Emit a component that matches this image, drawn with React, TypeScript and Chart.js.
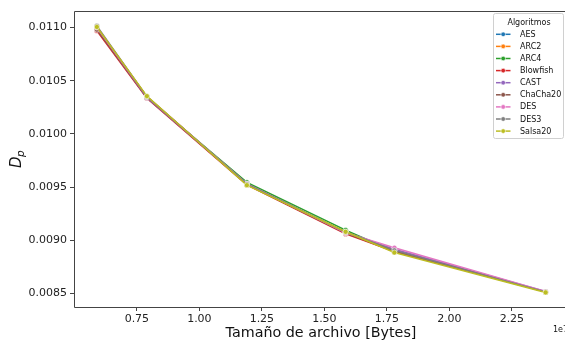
import React, { useEffect, useRef } from "react";
import { Chart, registerables } from "chart.js";

Chart.register(...registerables);

const fileSizes = [5.9e6, 7.9e6, 11.9e6, 15.85e6, 17.8e6, 23.85e6];

const algorithms = ["AES", "ARC2", "ARC4", "Blowfish", "CAST", "ChaCha20", "DES", "DES3", "Salsa20"];
const colors = ["#1f77b4", "#ff7f0e", "#2ca02c", "#d62728", "#9467bd", "#8c564b", "#e377c2", "#7f7f7f", "#bcbd22"];

const aesValues = [0.010995, 0.010345, 0.009530, 0.009075, 0.008900, 0.008515];
const arc2Values = [0.011000, 0.010350, 0.009528, 0.009070, 0.008895, 0.008515];
const arc4Values = [0.010990, 0.010340, 0.009545, 0.009095, 0.008895, 0.008515];
const blowfishValues = [0.010970, 0.010335, 0.009520, 0.009060, 0.008895, 0.008515];
const castValues = [0.010990, 0.010340, 0.009530, 0.009075, 0.008915, 0.008518];
const chacha20Values = [0.010980, 0.010345, 0.009525, 0.009068, 0.008900, 0.008515];
const desValues = [0.011000, 0.010350, 0.009530, 0.009070, 0.008930, 0.008518];
const des3Values = [0.011015, 0.010350, 0.009528, 0.009078, 0.008905, 0.008515];
const salsa20Values = [0.011005, 0.010355, 0.009518, 0.009080, 0.008885, 0.008510];

const seriesValues = [aesValues, arc2Values, arc4Values, blowfishValues, castValues, chacha20Values, desValues, des3Values, salsa20Values];

const xTickValues = [0.75e7, 1.0e7, 1.25e7, 1.5e7, 1.75e7, 2.0e7, 2.25e7];
const yTickValues = [0.0085, 0.009, 0.0095, 0.01, 0.0105, 0.011];

const xTitle = "Tamaño de archivo [Bytes]";
const legendTitle = "Algoritmos";
const FONT = "'DejaVu Sans', sans-serif";

const decorPlugin = {
  id: "decor",
  afterDraw(chart: any) {
    const ctx = chart.ctx;
    const a = chart.chartArea;
    ctx.save();
    // frame (left, top, bottom; right spine lies at the canvas edge)
    ctx.strokeStyle = "#444";
    ctx.lineWidth = 1;
    const L = Math.round(a.left) + 0.5;
    const T = Math.round(a.top) + 0.5;
    const B = Math.round(a.bottom) + 0.5;
    const R = Math.round(a.right) + 0.5;
    ctx.beginPath();
    ctx.moveTo(R, T);
    ctx.lineTo(L, T);
    ctx.lineTo(L, B);
    ctx.lineTo(R, B);
    ctx.lineTo(R, T);
    ctx.stroke();

    // x title
    ctx.fillStyle = "#111";
    ctx.font = `14.3px ${FONT}`;
    ctx.textAlign = "center";
    ctx.textBaseline = "middle";
    ctx.fillText(xTitle, 321, 333);

    // 1e7 offset
    ctx.font = `8px ${FONT}`;
    ctx.textAlign = "left";
    ctx.fillText("1e7", 553, 330);

    // y title D_p
    ctx.save();
    ctx.translate(16, (a.top + a.bottom) / 2);
    ctx.rotate(-Math.PI / 2);
    ctx.textAlign = "left";
    ctx.textBaseline = "alphabetic";
    ctx.font = `italic 15px ${FONT}`;
    const dW = ctx.measureText("D").width;
    ctx.font = `italic 10.5px ${FONT}`;
    const pW = ctx.measureText("p").width;
    const total = dW + pW;
    ctx.font = `italic 15px ${FONT}`;
    ctx.fillText("D", -total / 2, 5);
    ctx.font = `italic 10.5px ${FONT}`;
    ctx.fillText("p", -total / 2 + dW - 0.5, 7.5);
    ctx.restore();

    // legend
    const bx = 493.5, by = 13.5, bw = 70, bh = 125;
    ctx.fillStyle = "rgba(255,255,255,0.85)";
    ctx.strokeStyle = "#d0d0d0";
    ctx.lineWidth = 1;
    ctx.beginPath();
    const r = 2;
    ctx.moveTo(bx + r, by);
    ctx.lineTo(bx + bw - r, by);
    ctx.arcTo(bx + bw, by, bx + bw, by + r, r);
    ctx.lineTo(bx + bw, by + bh - r);
    ctx.arcTo(bx + bw, by + bh, bx + bw - r, by + bh, r);
    ctx.lineTo(bx + r, by + bh);
    ctx.arcTo(bx, by + bh, bx, by + bh - r, r);
    ctx.lineTo(bx, by + r);
    ctx.arcTo(bx, by, bx + r, by, r);
    ctx.closePath();
    ctx.fill();
    ctx.stroke();

    ctx.fillStyle = "#111";
    ctx.font = `8px ${FONT}`;
    ctx.textAlign = "center";
    ctx.textBaseline = "middle";
    ctx.fillText(legendTitle, 529, 23);
    ctx.textAlign = "left";
    for (let i = 0; i < algorithms.length; i++) {
      const y = 34.3 + i * 12.1;
      ctx.strokeStyle = colors[i];
      ctx.lineWidth = 1.5;
      ctx.beginPath();
      ctx.moveTo(496, y);
      ctx.lineTo(510.5, y);
      ctx.stroke();
      ctx.fillStyle = colors[i];
      ctx.strokeStyle = "#fff";
      ctx.lineWidth = 0.6;
      ctx.beginPath();
      ctx.arc(503.2, y, 2.3, 0, Math.PI * 2);
      ctx.fill();
      ctx.stroke();
      ctx.fillStyle = "#111";
      ctx.fillText(algorithms[i], 520, y + 0.5);
    }
    ctx.restore();
  },
};

export default function App() {
  const canvasRef = useRef<HTMLCanvasElement | null>(null);

  useEffect(() => {
    document.body.style.margin = "0";
    const canvas = canvasRef.current;
    if (!canvas) return;
    const datasets = algorithms.map((name, i) => ({
      label: name,
      data: fileSizes.map((x, j) => ({ x, y: seriesValues[i][j] })),
      borderColor: colors[i],
      backgroundColor: colors[i],
      borderWidth: 1.5,
      pointRadius: 2.6,
      pointHoverRadius: 2.6,
      pointBorderColor: "#ffffff",
      pointBorderWidth: 0.6,
      pointBackgroundColor: colors[i],
      tension: 0,
      order: algorithms.length - i,
    }));
    const chart = new Chart(canvas, {
      type: "line",
      data: { datasets },
      plugins: [decorPlugin],
      options: {
        animation: false,
        responsive: true,
        maintainAspectRatio: false,
        layout: { autoPadding: false, padding: { left: 0, right: 0, top: 11, bottom: 0 } },
        plugins: { legend: { display: false }, tooltip: { enabled: false } },
        scales: {
          x: {
            type: "linear",
            min: 0.4985e7,
            max: 2.4625e7,
            afterFit: (s: any) => { s.height = 36; s.paddingLeft = 0; s.paddingRight = 0; },
            afterBuildTicks: (s: any) => { s.ticks = xTickValues.map((v) => ({ value: v })); },
            grid: { drawOnChartArea: false, tickLength: 4, tickColor: "#444", drawTicks: true },
            border: { display: false },
            ticks: {
              autoSkip: false,
              maxRotation: 0,
              padding: 2,
              color: "#222",
              font: { family: FONT, size: 11 },
              callback: (v: any) => (Number(v) / 1e7).toFixed(2),
            },
          },
          y: {
            type: "linear",
            min: 0.008373,
            max: 0.011155,
            afterFit: (s: any) => { s.width = 74; },
            afterBuildTicks: (s: any) => { s.ticks = yTickValues.map((v) => ({ value: v })); },
            grid: { drawOnChartArea: false, tickLength: 4, tickColor: "#444" },
            border: { display: false },
            ticks: {
              padding: 3,
              color: "#222",
              font: { family: FONT, size: 11 },
              callback: (v: any) => Number(v).toFixed(4),
            },
          },
        },
      },
    });
    return () => chart.destroy();
  }, []);

  return (
    <div style={{ width: 565, height: 343, position: "relative" }}>
      <canvas ref={canvasRef} />
    </div>
  );
}
